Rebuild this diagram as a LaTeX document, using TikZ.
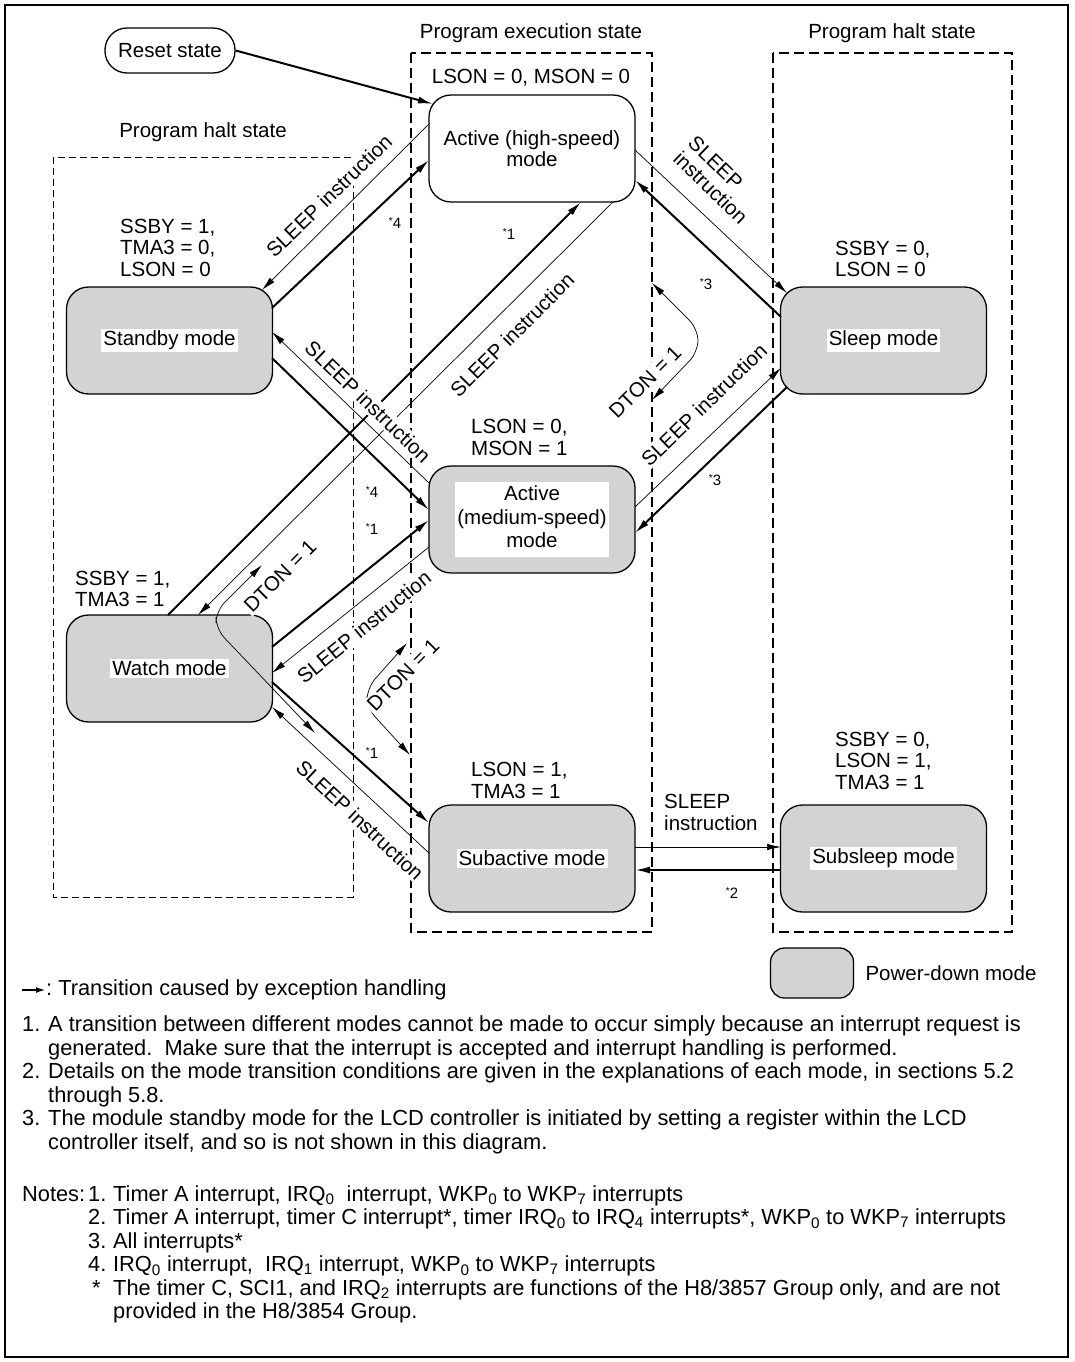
\documentclass[tikz,border=0pt]{standalone}
\usepackage{fontspec}
\setmainfont{Liberation Sans}
\usetikzlibrary{arrows.meta,calc}
\definecolor{pdgray}{RGB}{209,211,212}
\newcommand{\wlbl}[1]{{\setlength{\fboxsep}{2pt}\colorbox{white}{#1}}}
\newcommand{\fnmark}[1]{\raisebox{3.5pt}{\fontsize{10}{10}\selectfont *}#1}

\tikzset{
  mode/.style={draw, line width=1.3pt, rounded corners=22pt, minimum width=206pt, minimum height=107pt, align=center},
  pdmode/.style={mode, fill=pdgray},
  exc/.style={line width=2pt, -{Latex[length=15pt,width=7pt]}},
  instr/.style={line width=0.7pt, -{Latex[length=14pt,width=6.5pt]}},
  dton/.style={line width=0.7pt, rounded corners=12pt, {Latex[length=14pt,width=6.5pt]}-{Latex[length=14pt,width=6.5pt]}},
  slbl/.style={fill=white, inner sep=2pt},
  cond/.style={anchor=west, align=left, inner sep=0pt},
  fnote/.style={font=\fontsize{15}{15}\selectfont, inner sep=0pt},
  region/.style={line width=1.1pt, dash pattern=on 10pt off 5pt},
  notetext/.style={font=\fontsize{21.8}{23.5}\selectfont},
}

\begin{document}
\begin{tikzpicture}[x=1pt,y=-1pt, every node/.style={font=\fontsize{20.5}{21.5}\selectfont}]
\useasboundingbox (0,0) rectangle (1074,1362);
\draw[line width=2.5pt] (5,5) rectangle (1068,1357);

% state regions
\draw[region, line width=1pt, dash pattern=on 7pt off 4pt] (53,157) rectangle (353,897);
\draw[region] (411,53) rectangle (652,932);
\draw[region] (773,53) rectangle (1012,932);
\node (haltL) at (203,132) {Program halt state};
\node (exec) at (531,33) {Program execution state};
\node (haltR) at (892,33) {Program halt state};

% modes
\node[mode, minimum width=130pt, minimum height=45pt] (reset) at (170,50.5) {Reset state};
\node[mode] (ah) at (532,148.5) {Active (high-speed)\\mode};
\node[pdmode] (sb) at (169.5,340.5) {\wlbl{Standby mode}};
\node[pdmode] (sl) at (883.5,340.5) {\wlbl{Sleep mode}};
\node[pdmode] (am) at (532,519.5) {\wlbl{\renewcommand{\arraystretch}{1.09}\begin{tabular}{@{}c@{}}Active\\(medium-speed)\\mode\end{tabular}}};
\node[pdmode] (wa) at (169.5,668.5) {\wlbl{Watch mode}};
\node[pdmode] (sa) at (532,858.5) {\wlbl{Subactive mode}};
\node[pdmode] (ss) at (883.5,858.5) {\wlbl{Subsleep mode}};

% register settings
\node[cond, anchor=center] (cah) at (531,78) {LSON = 0, MSON = 0};
\node[cond] (csb) at (120,247.5) {SSBY = 1,\\TMA3 = 0,\\LSON = 0};
\node[cond] (csl) at (835,259) {SSBY = 0,\\LSON = 0};
\node[cond] (cam) at (471,437.5) {LSON = 0,\\MSON = 1};
\node[cond] (cwa) at (75,589) {SSBY = 1,\\TMA3 = 1};
\node[cond] (csa) at (471,780.5) {LSON = 1,\\TMA3 = 1};
\node[cond] (css) at (835,760.5) {SSBY = 0,\\LSON = 1,\\TMA3 = 1};

% transitions by exception handling
\draw[exc] (reset.east) -- ($(ah)+(-99,-44.5)$);
\draw[exc] ($(sb)+(102.5,-32.5)$) -- ($(ah)+(-103,11.5)$);
\draw[exc] ($(wa)+(-1.5,-53.5)$) -- ($(ah)+(49,53.5)$);
\draw[exc] ($(sl)+(-102.5,-23.5)$) -- ($(ah)+(103,31.5)$);
\draw[exc] ($(sb)+(102.5,17.5)$) -- ($(am)+(-103,-9.5)$);
\draw[exc] ($(wa)+(102.5,-21.5)$) -- ($(am)+(-103,0.5)$);
\draw[exc] ($(sl)+(-96.5,46.5)$) -- ($(am)+(103,13.5)$);
\draw[exc] ($(wa)+(102.5,13.5)$) -- ($(sa)+(-103,-35.5)$);
\draw[exc] ($(ss)+(-102.5,11.5)$) -- ($(sa)+(103,11.5)$);

% SLEEP instruction transitions
\draw[instr] ($(ah)+(-103,-24.5)$) -- ($(sb)+(92.5,-50.5)$);
\draw[instr] ($(ah)+(103,1.5)$) -- ($(sl)+(-96.5,-47.5)$);
\draw[instr] ($(ah)+(81,53.5)$) -- ($(wa)+(28.5,-53.5)$);
\draw[instr] ($(am)+(-103,-36.5)$) -- ($(sb)+(102.5,-8.5)$);
\draw[instr] ($(am)+(103,-12.5)$) -- ($(sl)+(-102.5,27.5)$);
\draw[instr] ($(am)+(-103,27.5)$) -- ($(wa)+(102.5,4.5)$);
\draw[instr] ($(sa)+(-103,-5.5)$) -- ($(wa)+(102.5,38.5)$);
\draw[instr] ($(sa)+(103,-11.5)$) -- ($(ss)+(-102.5,-11.5)$);

% direct transfers
\coordinate (d1a) at (262,565); \coordinate (d1b) at (315,733);
\coordinate (d2a) at (407,643); \coordinate (d2b) at (410,755);
\coordinate (d3a) at (652,283); \coordinate (d3b) at (652,400);
\draw[dton] (d1a) -- (216,611) -- (216,629) -- (d1b);
\draw[dton] (d2a) -- (367,688) -- (367,708) -- (d2b);
\draw[dton] (d3a) -- (698,329) -- (698,352) -- (d3b);

% labels on the transitions
\node[slbl, rotate=44] (i1) at (329,196) {SLEEP instruction};
\node[slbl, rotate=-44, align=left] (i2) at (718,180) {SLEEP\\instruction};
\node[slbl, rotate=45] (i3) at (512,335) {SLEEP instruction};
\node[slbl, rotate=-44] (i4) at (368,402) {SLEEP instruction};
\node[slbl, rotate=44] (i5) at (704,405) {SLEEP instruction};
\node[slbl, rotate=39] (i6) at (364,627) {SLEEP instruction};
\node[slbl, rotate=-43] (i7) at (360,820) {SLEEP instruction};
\node[cond] (i8) at (664,812.5) {SLEEP\\instruction};
\node[slbl, rotate=45] (t1) at (280,576) {DTON = 1};
\node[slbl, rotate=45] (t2) at (403,675) {DTON = 1};
\node[slbl, rotate=45] (t3) at (645,382) {DTON = 1};

\node[fnote] (n4a) at (395,223) {\fnmark{4}};
\node[fnote] (n1a) at (509,234) {\fnmark{1}};
\node[fnote] (n3a) at (706,284) {\fnmark{3}};
\node[fnote] (n3b) at (715,480) {\fnmark{3}};
\node[fnote] (n4b) at (372,492) {\fnmark{4}};
\node[fnote] (n1b) at (372,529) {\fnmark{1}};
\node[fnote] (n1c) at (372,753) {\fnmark{1}};
\node[fnote] (n2) at (732,893) {\fnmark{2}};

% legend
\node[pdmode, minimum width=83pt, minimum height=50pt, rounded corners=14pt] (pdkey) at (812,973) {};
\node[anchor=west] (pdtxt) at (862,973) {Power-down mode};
\coordinate (excA) at (22,990);
\node[notetext, anchor=west, inner sep=0pt] (exctxt) at (46,990) {:~Transition caused by exception handling};
\draw[line width=2pt, -{Latex[length=10pt,width=6pt]}] (excA) -- (exctxt.west);

% notes
\node[notetext, anchor=north west, inner sep=0pt] (rules) at (22,1015.3) {%
\begin{tabular}{@{}p{26pt}@{}l@{}}
1. & A transition between different modes cannot be made to occur simply because an interrupt request is\\
   & generated.\ \ Make sure that the interrupt is accepted and interrupt handling is performed.\\
2. & Details on the mode transition conditions are given in the explanations of each mode, in sections 5.2\\
   & through 5.8.\\
3. & The module standby mode for the LCD controller is initiated by setting a register within the LCD\\
   & controller itself, and so is not shown in this diagram.
\end{tabular}};
\node[notetext, anchor=north west, inner sep=0pt] (notes) at (22,1184.4) {%
\begin{tabular}{@{}p{66pt}@{}p{25pt}@{}l@{}}
Notes: & 1. & Timer A interrupt, IRQ\textsubscript{0}\ \ interrupt, WKP\textsubscript{0} to WKP\textsubscript{7} interrupts\\
 & 2. & Timer A interrupt, timer C interrupt*, timer IRQ\textsubscript{0} to IRQ\textsubscript{4} interrupts*, WKP\textsubscript{0} to WKP\textsubscript{7} interrupts\\
 & 3. & All interrupts*\\
 & 4. & IRQ\textsubscript{0} interrupt,\ \ IRQ\textsubscript{1} interrupt, WKP\textsubscript{0} to WKP\textsubscript{7} interrupts\\
 & \hspace{4pt}* & The timer C, SCI1, and IRQ\textsubscript{2} interrupts are functions of the H8/3857 Group only, and are not\\
 & & provided in the H8/3854 Group.
\end{tabular}};
\end{tikzpicture}
\end{document}
